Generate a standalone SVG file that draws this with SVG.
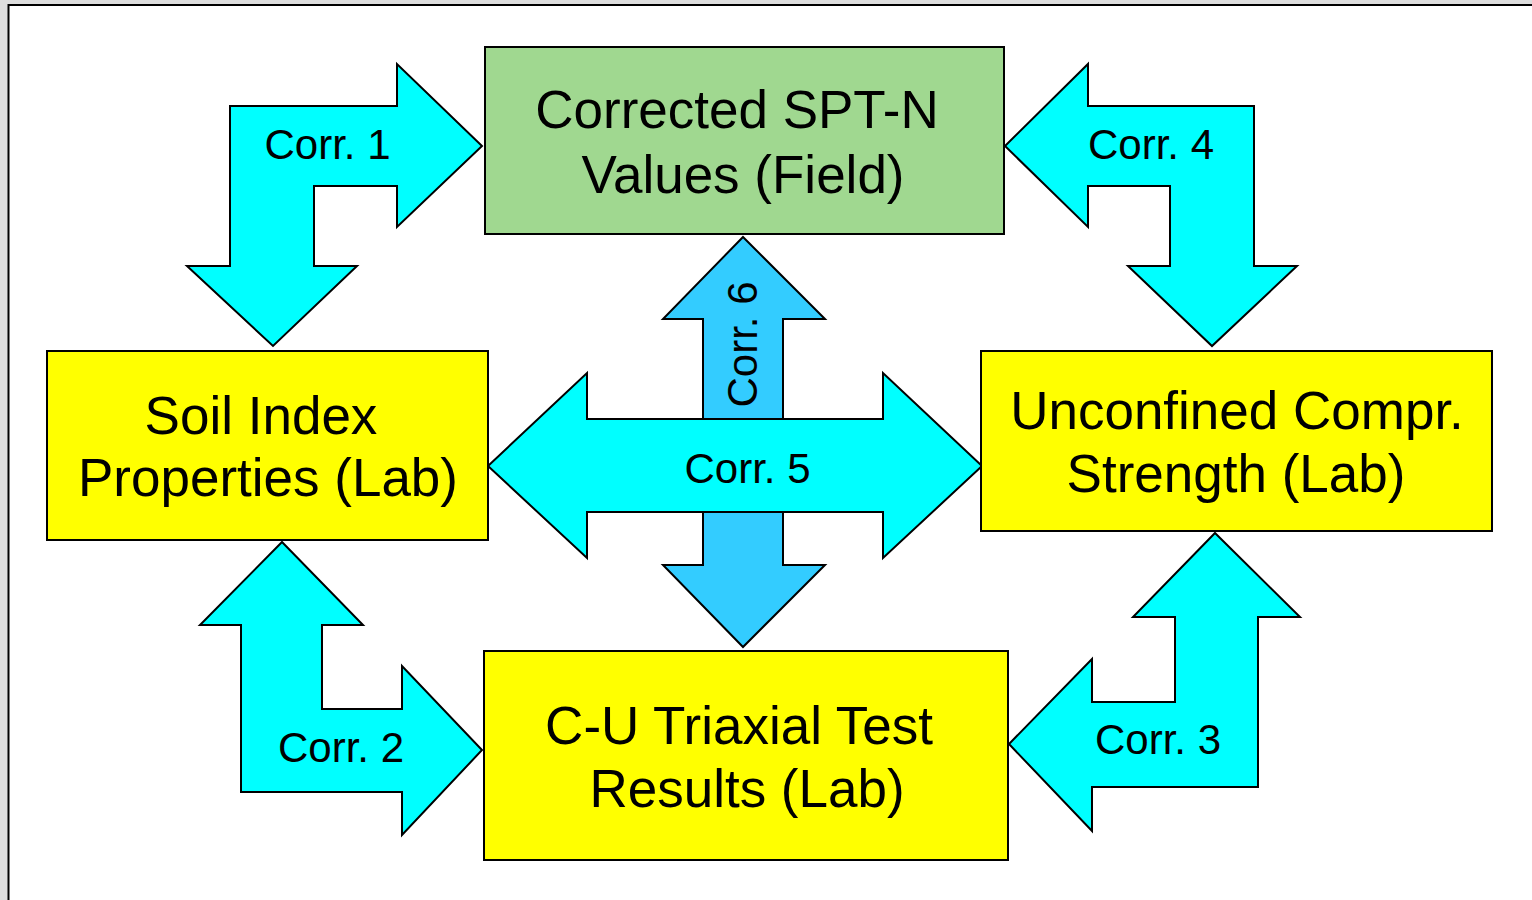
<svg xmlns="http://www.w3.org/2000/svg" width="1532" height="900" viewBox="0 0 1532 900">
<style>
.box{stroke:#000;stroke-width:2}
.arr{stroke:#000;stroke-width:2;stroke-linejoin:miter}
.cyan{fill:#00FFFF}
.blue{fill:#33CCFF}
.t{font-family:"Liberation Sans",Arial,sans-serif;font-size:53px;fill:#000;text-anchor:middle}
.lbl{font-family:"Liberation Sans",Arial,sans-serif;font-size:42px;fill:#000;text-anchor:middle}
</style>
<rect x="0" y="0" width="1532" height="900" fill="#DDDDDD"/>
<rect x="8.5" y="5" width="1540" height="910" fill="#FFFFFF" stroke="#000" stroke-width="2"/>
<g id="connectors">
  <g id="corr6">
    <polygon class="arr blue" points="743,237 825,319 783,319 783,565 825,565 743,647 663,565 703,565 703,319 663,319"/>
    <text class="lbl" font-size="45" transform="translate(757,344.5) rotate(-90)" x="0" y="0">Corr. 6</text>
  </g>
  <g id="corr5">
    <polygon class="arr cyan" points="488,466 587,373 587,419 883,419 883,373 982,466 883,558 883,512 587,512 587,558"/>
    <text class="lbl" x="747.5" y="483">Corr. 5</text>
  </g>
  <g id="corr1">
    <polygon class="arr cyan" points="230,106 397,106 397,64 482,146 397,227 397,186 314,186 314,266 357,266 273,346 187,266 230,266"/>
    <text class="lbl" x="327.5" y="159">Corr. 1</text>
  </g>
  <g id="corr4">
    <polygon class="arr cyan" points="1005,146 1088,64 1088,106 1254,106 1254,266 1297,266 1212,346 1128,266 1170,266 1170,186 1088,186 1088,227"/>
    <text class="lbl" x="1151" y="159">Corr. 4</text>
  </g>
  <g id="corr2">
    <polygon class="arr cyan" points="282,542 363,625 322,625 322,709 402,709 402,666 482,750 402,835 402,792 241,792 241,625 200,625"/>
    <text class="lbl" x="341" y="762">Corr. 2</text>
  </g>
  <g id="corr3">
    <polygon class="arr cyan" points="1215,533 1300,617 1258,617 1258,787 1092,787 1092,831 1009,744 1092,659 1092,702 1175,702 1175,617 1133,617"/>
    <text class="lbl" x="1158" y="754">Corr. 3</text>
  </g>
</g>
<g id="node-spt">
  <rect class="box" x="485" y="47" width="519" height="187" fill="#A0D890"/>
  <text class="t" x="737" y="128">Corrected SPT-N</text>
  <text class="t" x="743" y="193">Values (Field)</text>
</g>
<g id="node-soil">
  <rect class="box" x="47" y="351" width="441" height="189" fill="#FFFF00"/>
  <text class="t" x="261" y="434">Soil Index</text>
  <text class="t" x="268" y="496">Properties (Lab)</text>
</g>
<g id="node-ucs">
  <rect class="box" x="981" y="351" width="511" height="180" fill="#FFFF00"/>
  <text class="t" x="1237" y="429">Unconfined Compr.</text>
  <text class="t" x="1236" y="492">Strength (Lab)</text>
</g>
<g id="node-cu">
  <rect class="box" x="484" y="651" width="524" height="209" fill="#FFFF00"/>
  <text class="t" x="739" y="744">C-U Triaxial Test</text>
  <text class="t" x="747" y="807">Results (Lab)</text>
</g>
</svg>
